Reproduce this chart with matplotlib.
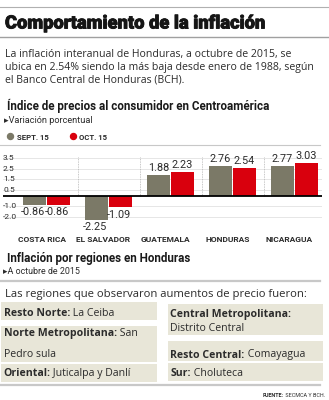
import matplotlib
matplotlib.use("Agg")
import matplotlib.pyplot as plt
from matplotlib.patches import Rectangle, Circle
import matplotlib.transforms as mtransforms
import matplotlib.patheffects as pe

countries = ["COSTA RICA", "EL SALVADOR", "GUATEMALA", "HONDURAS", "NICARAGUA"]
sept15 = [-0.86, -2.25, 1.88, 2.76, 2.77]
oct15 = [-0.86, -1.09, 2.23, 2.54, 3.03]
ytick_vals = [3.5, 2.5, 1.5, 0.5, -1.0, -2.0]
ytick_labels = ["3.5", "2.5", "1.5", "0.5", "-1.0", "-2.0"]
series_names = ["SEPT. 15", "OCT. 15"]

title = "Comportamiento de la inflación"
paragraph = ["La inflación interanual de Honduras, a octubre de 2015, se",
             "ubica en 2.54% siendo la más baja desde enero de 1988, según",
             "el Banco Central de Honduras (BCH)."]
chart_title = "Índice de precios al consumidor en Centroamérica"
chart_sub = "▸Variación porcentual"
reg_title = "Inflación por regiones en Honduras"
reg_sub = "▸A octubre de 2015"
reg_intro = "Las regiones que observaron aumentos de precio fueron:"
left_boxes = [[("Resto Norte:", " La Ceiba")],
              [("Norte Metropolitana:", " San"), ("", "Pedro sula")],
              [("Oriental:", " Juticalpa y Danlí")]]
right_boxes = [[("Central Metropolitana:", ""), ("", "Distrito Central")],
               [("Resto Central:", " Comayagua")],
               [("Sur:", " Choluteca")]]
source_bold = "FUENTE:"
source_text = " SECMCA Y BCH."

GREY = "#7b7967"
RED = "#d9000d"
BOX = "#e8e6d8"
TXT = "#2b2b2b"
FONT = ["Open Sans", "DejaVu Sans"]
NARROW = ["Roboto", "DejaVu Sans"]

W, H = 329, 400
fig = plt.figure(figsize=(W / 100, H / 100), dpi=100)
fig.patch.set_facecolor("white")

# chart axes (pixel placement)
top_px, bot_px, left_px, right_px = 145, 226, 3, 322
ax = fig.add_axes([left_px / W, 1 - bot_px / H, (right_px - left_px) / W, (bot_px - top_px) / H])
zero_px = 195.7
ppu = 10.8
ax.set_ylim(-(bot_px - zero_px) / ppu, (zero_px - top_px) / ppu)
c0, step = 46.5, 62.0
ax.set_xlim((left_px - c0) / step, (right_px - c0) / step)
ax.axis("off")

bw = 22.5 / step
off = 12.0 / step
xs = list(range(len(countries)))
for yv in ytick_vals:
    ax.axhline(yv, color="#e2e2e2", lw=0.6, zorder=0)
for i in range(len(countries) - 1):
    ax.vlines(i + 0.5, 0, 3.6, colors="#b5b5b5", linestyles=(0, (1, 1)), lw=0.6, zorder=0)
ax.bar([x - off for x in xs], sept15, width=bw, color=GREY, zorder=2)
ax.bar([x + off for x in xs], oct15, width=bw, color=RED, zorder=2)
ax.axhline(0, color="black", lw=1.3, zorder=3)
for x, a, b in zip(xs, sept15, oct15):
    for xx, v in ((x - off, a), (x + off, b)):
        ax.annotate(f"{v:.2f}", (xx, v), xytext=(-1.0 if v < 0 else 0, 1.5 if v > 0 else -1.5),
                    textcoords="offset points", ha="center",
                    va="bottom" if v > 0 else "top", fontsize=7.8, color=TXT,
                    family=NARROW, zorder=4)
trans = mtransforms.blended_transform_factory(ax.transAxes, ax.transData)
for yv, lab in zip(ytick_vals, ytick_labels):
    ax.text(0.0, yv, lab, transform=trans, ha="left", va="center", fontsize=6.0,
            color=TXT, family=NARROW)

# overlay for text and decorations
ov = fig.add_axes([0, 0, 1, 1], zorder=5)
ov.set_xlim(0, W)
ov.set_ylim(H, 0)
ov.axis("off")
ov.patch.set_alpha(0)
r = fig.canvas.get_renderer()


def fit(t, width):
    bb = t.get_window_extent(r)
    t.set_fontsize(t.get_fontsize() * width / bb.width)
    return t


def rich_width(bold, reg, size, family):
    t1 = ov.text(0, 0, bold, fontsize=size, fontweight="bold", family=family)
    t2 = ov.text(0, 0, reg, fontsize=size, family=family)
    w = (t1.get_window_extent(r).width if bold else 0) + t2.get_window_extent(r).width
    t1.remove()
    t2.remove()
    return w


def rich(x, y, bold, reg, size, family=FONT, color=TXT):
    t1 = ov.text(x, y, bold, fontsize=size, fontweight="bold", family=family,
                 color=color, va="baseline", ha="left")
    w = t1.get_window_extent(r).width if bold else 0
    ov.text(x + w, y, reg, fontsize=size, family=family, color=color,
            va="baseline", ha="left")


ov.plot([0, W], [7, 7], color="#b0b0b0", lw=0.8)
t = ov.text(5, 28.5, title, fontsize=14, fontweight="black", family=["Roboto", "DejaVu Sans"],
            color="#151515", va="baseline")
fit(t, 261)
t.set_path_effects([pe.withStroke(linewidth=0.6, foreground="#151515")])
ov.plot([0, W], [37, 37], color="#a0a0a0", lw=1.0)

t = ov.text(5, 70, paragraph[1], fontsize=8.5, family=FONT, color=TXT, va="baseline")
fit(t, 308)
ps = t.get_fontsize()
ov.text(5, 57.5, paragraph[0], fontsize=ps, family=FONT, color=TXT, va="baseline")
ov.text(5, 82.5, paragraph[2], fontsize=ps, family=FONT, color=TXT, va="baseline")

t = ov.text(7, 110, chart_title, fontsize=9, fontweight="bold", family=NARROW,
            color="#1a1a1a", va="baseline")
fit(t, 261)
t = ov.text(4, 123, chart_sub, fontsize=6, family=NARROW, color=TXT, va="baseline")
fit(t, 89)

ov.add_patch(Circle((10.5, 136.5), 3.0, color=GREY))
ov.add_patch(Circle((73.5, 136.5), 3.0, color=RED))
t = ov.text(17, 139.5, series_names[0], fontsize=6, family=NARROW, fontweight="bold",
            color=TXT, va="baseline")
fit(t, 32)
ov.text(79, 139.5, series_names[1], fontsize=t.get_fontsize(), family=NARROW,
        fontweight="bold", color=TXT, va="baseline")
ov.plot([0, 320], [145, 145], color="#c8c8c8", lw=0.8)

tc = ov.text(0, 0, countries[0], fontsize=6.2, fontweight="bold", family=NARROW)
fit(tc, 48)
cs = tc.get_fontsize()
tc.remove()
for i, c in enumerate(countries):
    px = c0 + step * i
    ov.text(px - 5, 242, c, fontsize=cs, fontweight="bold", family=NARROW, color=TXT,
            ha="center", va="baseline")

t = ov.text(7, 262, reg_title, fontsize=9, fontweight="bold", family=NARROW,
            color="#1a1a1a", va="baseline")
fit(t, 184)
t = ov.text(3, 274, reg_sub, fontsize=6, family=NARROW, color=TXT, va="baseline")
fit(t, 78)
ov.plot([0, 320], [281, 281], color="#c8c8c8", lw=1.6)
t = ov.text(5, 297, reg_intro, fontsize=8.5, family=FONT, color=TXT, va="baseline")
fit(t, 300)

bs = 8.0 * 133 / rich_width("Norte Metropolitana:", " San", 8.0, FONT)

left_rects = [(302, 320), (326, 362), (364, 382)]
right_rects = [(304, 335), (341, 361), (363, 381)]
left_base = [[316], [336, 357], [376]]
right_base = [[317.5, 331], [357.5], [376]]
for rects, boxes, bases, x0, x1 in ((left_rects, left_boxes, left_base, 1, 157),
                                    (right_rects, right_boxes, right_base, 168, 323)):
    for (y0, y1), lines, bl in zip(rects, boxes, bases):
        ov.add_patch(Rectangle((x0, y0), x1 - x0, y1 - y0, color=BOX, lw=0))
        for (b, g), yb in zip(lines, bl):
            rich(x0 + 2.5, yb, b, g, bs)

ov.plot([0, 320], [384.5, 384.5], color="#c8c8c8", lw=1.6)
ss = 5.0 * 63 / rich_width(source_bold, source_text, 5.0, NARROW)
rich(263, 397, source_bold, source_text, ss, family=NARROW)

fig.savefig("out.png", dpi=100, facecolor="white")
